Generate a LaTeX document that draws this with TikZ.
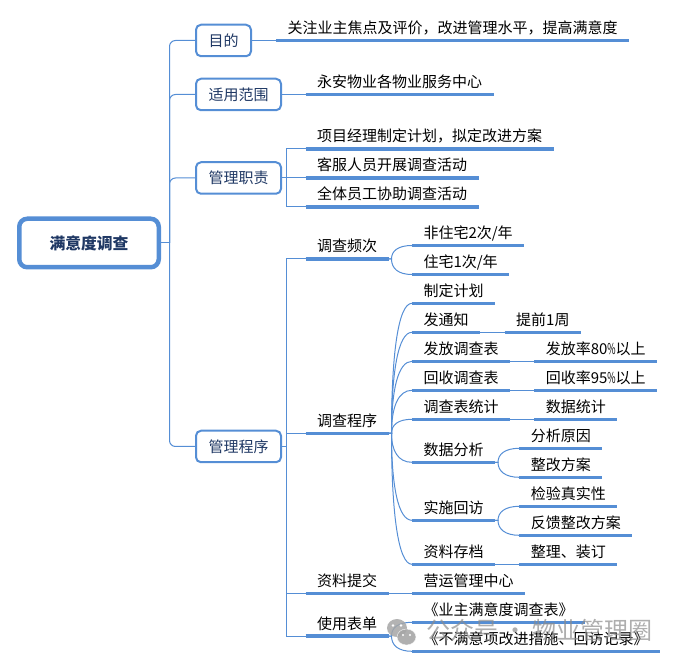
\documentclass[tikz,border=0pt]{standalone}
\usepackage{fontspec}
\setmainfont{Noto Sans CJK SC}
\usepackage{xcolor}
\usepackage{tikz}
\usetikzlibrary{positioning,calc}
\definecolor{mapblue}{RGB}{85,142,213}
\definecolor{mapnavy}{RGB}{31,56,100}
\newcommand{\slimpct}{\scalebox{.6}[1]{\%}}
\tikzset{
  hang/.style={right=#1,anchor=south west},
  under/.style={below=#1,anchor=north west},
  fan/.style={to path={-- ($(\tikztostart)+(3,0)$) .. controls ($(\tikztostart)!0.6!(\tikztostart|-\tikztotarget)+(3,0)$) and ($(\tikztotarget)+(-14,0)$) .. (\tikztotarget)}}}

\begin{document}
\begin{tikzpicture}[x=1pt,y=-1pt,font=\fontsize{15pt}{18pt}\selectfont,
    rootbox/.style={rectangle,draw=mapblue,fill=white,line width=4.5pt,rounded corners=8pt,
      minimum width=139.5pt,minimum height=48.5pt,text=mapnavy,font=\fontsize{15.8pt}{18pt}\selectfont\bfseries},
    topbox/.style={rectangle,draw=mapblue,fill=white,line width=2pt,rounded corners=5pt,
      minimum height=31.5pt,inner xsep=12.5pt,inner ysep=0pt,text=mapnavy},
    rule/.style={mapblue,line width=3.5pt},
    leaf/.style={inner xsep=11.5pt,inner ysep=4pt,outer sep=0pt,text height=13pt,text depth=3pt,
      append after command={(\tikzlastnode.south west) edge[rule] (\tikzlastnode.south east)}},
    link/.style={mapblue,line width=1pt},
    trunk/.style={link,rounded corners=6pt}]
    \useasboundingbox (0,0) rectangle (678,668);
    \node[rootbox] (root) at (89,243) {满意度调查};
    \node[topbox,anchor=west] (goal) at (195,40.5) {目的};
    \node[topbox,under=20.5pt of goal.south west] (scope) {适用范围};
    \node[topbox,under=50pt of scope.south west] (duty) {管理职责};
    \node[topbox,under=235pt of duty.south west] (manage) {管理程序};
    % first column
    \node[leaf,hang=24pt of goal.east] (aim) {关注业主焦点及评价，改进管理水平，提高满意度};
    \node[leaf,hang=23.5pt of scope.east] (range) {永安物业各物业服务中心};
    \node[leaf,hang=23.5pt of duty.east,yshift=29pt] (pm) {项目经理制定计划，拟定改进方案};
    \node[leaf,under=5pt of pm.south west] (staff) {客服人员开展调查活动};
    \node[leaf,under=5pt of staff.south west] (crew) {全体员工协助调查活动};
    \node[leaf,hang=23.5pt of manage.east,yshift=187.5pt] (freq) {调查频次};
    \node[leaf,hang=23.5pt of manage.east,yshift=13.2pt] (proc) {调查程序};
    \node[leaf,hang=23.5pt of manage.east,yshift=-146.8pt] (submit) {资料提交};
    \node[leaf,hang=23.5pt of manage.east,yshift=-189.5pt] (form) {使用表单};
    % second column
    \node[leaf,hang=23.5pt of freq.south east,yshift=13.5pt] (office) {非住宅2次/年};
    \node[leaf,under=5pt of office.south west] (home) {住宅1次/年};
    \node[leaf,hang=23.5pt of proc.south east,yshift=130pt] (plan) {制定计划};
    \node[leaf,under=5pt of plan.south west] (notice) {发通知};
    \node[leaf,under=5pt of notice.south west] (issue) {发放调查表};
    \node[leaf,under=5pt of issue.south west] (collect) {回收调查表};
    \node[leaf,under=5pt of collect.south west] (tally) {调查表统计};
    \node[leaf,under=19pt of tally.south west] (analyse) {数据分析};
    \node[leaf,under=34pt of analyse.south west] (visit) {实施回访};
    \node[leaf,under=20pt of visit.south west] (archive) {资料存档};
    \node[leaf,right=23.5pt of submit] (hub) {营运管理中心};
    \node[leaf,hang=23.5pt of form.south east,yshift=13.7pt] (owner) {《业主满意度调查表》};
    \node[leaf,under=5pt of owner.south west] (fix) {《不满意项改进措施、回访记录》};
    % third column
    \node[leaf,right=24.7pt of notice] (early) {提前1周};
    \node[leaf,right=24.3pt of issue] (rate) {发放率80\slimpct{}以上};
    \node[leaf,right=24.3pt of collect] (back) {回收率95\slimpct{}以上};
    \node[leaf,right=24.3pt of tally] (stats) {数据统计};
    \node[leaf,hang=24.3pt of analyse.south east,yshift=14pt] (cause) {分析原因};
    \node[leaf,under=5pt of cause.south west] (remedy) {整改方案};
    \node[leaf,hang=24.3pt of visit.south east,yshift=14pt] (check) {检验真实性};
    \node[leaf,under=5pt of check.south west] (reply) {反馈整改方案};
    \node[leaf,right=24.3pt of archive] (bind) {整理、装订};
    % connectors
    \coordinate (spine) at ($(root.east)+(8.5,0)$);
    \coordinate (dutybus) at ($(duty.east)+(4.5,0)$);
    \coordinate (bus) at ($(manage.east)+(4.5,0)$);
    \draw[link](root.east)--(spine);
    \draw[trunk](spine)|-(goal.west);\draw[trunk](spine)|-(scope.west);
    \draw[trunk](spine)|-(duty.west);\draw[trunk](spine)|-(manage.west);
    \draw[link](goal.east)--(aim.south west);\draw[link](scope.east)--(range.south west);
    \draw[link](duty.east)--(staff.south west);
    \draw[link](dutybus)|-(pm.south west);\draw[link](dutybus)|-(crew.south west);
    \draw[link](manage.east)--(bus);
    \draw[link](bus)|-(freq.south west);\draw[link](bus)|-(proc.south west);
    \draw[link](bus)|-(submit.south west);\draw[link](bus)|-(form.south west);
    \draw[link,fan](freq.south east)to(office.south west);\draw[link,fan](freq.south east)to(home.south west);
    \foreach \kid in {plan,notice,issue,collect,tally,analyse,visit,archive}
      \draw[link,fan](proc.south east)to(\kid.south west);
    \draw[link,fan](analyse.south east)to(cause.south west);\draw[link,fan](analyse.south east)to(remedy.south west);
    \draw[link,fan](visit.south east)to(check.south west);\draw[link,fan](visit.south east)to(reply.south west);
    \draw[link,fan](form.south east)to(owner.south west);\draw[link,fan](form.south east)to(fix.south west);
    \draw[link](notice.south east)--(early.south west);\draw[link](issue.south east)--(rate.south west);
    \draw[link](collect.south east)--(back.south west);\draw[link](tally.south east)--(stats.south west);
    \draw[link](archive.south east)--(bind.south west);\draw[link](submit.south east)--(hub.south west);
    % watermark
    \fill[black!35,opacity=.85] (397,628) ellipse (10 and 9);
    \fill[white] (393,625.5) circle (1.4) (401,625.5) circle (1.4);
    \fill[black!35,opacity=.9,draw=white] (406.5,637) ellipse (9.5 and 8);
    \fill[white] (403,635) circle (1.2) (410,635) circle (1.2);
    \node[text=black!45,opacity=.7,font=\fontsize{24pt}{26pt}\selectfont,anchor=west,inner sep=0pt] (stamp) at (426,630) {公众号\hspace{5pt}·\hspace{5pt}物业管理圈};
\end{tikzpicture}
\end{document}
